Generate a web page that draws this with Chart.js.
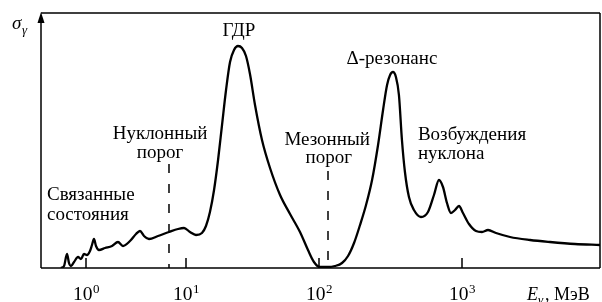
<!DOCTYPE html>
<html><head><meta charset="utf-8">
<script src="https://cdn.jsdelivr.net/npm/chart.js@4.4.0/dist/chart.umd.min.js"></script>
<style>html,body{margin:0;padding:0;background:#fff}</style>
</head><body>
<canvas id="c" width="602" height="302"></canvas>
<script>
// ---- data (photon energy in MeV, cross-section in arbitrary units) ----
const energyMeV = [0.562,0.603,0.646,0.676,0.708,0.759,0.832,0.891,0.955,1.023,1.096,1.148,1.202,1.259,1.349,1.549,1.820,2.089,2.344,2.754,3.162,3.467,3.802,4.266,5.248,6.761,8.318,9.550,10.72,11.89,13.18,14.13,15.14,16.25,17.42,18.66,20.0,21.43,22.96,24.60,26.36,28.25,30.27,33.03,37.27,42.83,50.96,60.56,71.97,82.63,91.65,101.6,115.6,129.4,144.9,159.6,175.8,193.6,213.3,235.0,258.8,280.5,299.2,314.1,328.9,345.1,362.2,380.2,399.0,425.6,461.3,516.4,578.1,636.8,690.2,736.2,785.2,837.5,893.3,952.8,1016,1119,1253,1380,1520,1729,2168,2992,4121,6166,9226];
const sigma = [0,2,14,5,2,6,11,9,14,13,17,23,29,22,18,20,22,26,22,27,34,37,32,29,32,36,39,40,36,33,35,42,56,78,108,143,178,206,218,222,220,212,194,163,128,100,73,54,36,18,6,1,1,2,5,12,25,43,63,88,123,158,183,193,196,191,173,128,96,71,58,51,56,73,88,81,65,55,58,62,55,44,37,36,38,35,31,28,26,24,23];
const tickValues = [1, 10, 100, 1000];
const tickBase = '10';
const tickExponents = ['0', '1', '2', '3'];
const thresholdEnergies = [6.76, 115.6];
const thresholdTops = [104, 97];
const annotations = [
  {text:'ГДР', E:25.0, v:232, align:'center'},
  {text:'Δ-резонанс', E:323.6, v:204, align:'center'},
  {text:'Возбуждения', E:492, v:128, align:'left'},
  {text:'нуклона', E:492, v:109, align:'left'},
  {text:'Нуклонный', E:5.50, v:129, align:'center'},
  {text:'порог', E:5.50, v:110, align:'center'},
  {text:'Мезонный', E:114, v:123, align:'center'},
  {text:'порог', E:117, v:105, align:'center'},
  {text:'Связанные', E:0.407, v:68, align:'left'},
  {text:'состояния', E:0.407, v:48.5, align:'left'}
];

// ---- non-uniform printed decade axis ----
const decadeLogs = [-0.45, 0, 1, 2, 3, 3.965];
const decadeFrac = [0, 45, 145, 278, 421, 559].map(v => v / 559);
function warpFrac(E) {
  const L = Math.log10(E);
  const n = decadeLogs.length;
  for (let i = 0; i < n - 1; i++) {
    if (L <= decadeLogs[i + 1] || i === n - 2) {
      const t = (L - decadeLogs[i]) / (decadeLogs[i + 1] - decadeLogs[i]);
      return decadeFrac[i] + t * (decadeFrac[i + 1] - decadeFrac[i]);
    }
  }
}
function unwarp(f) {
  const n = decadeFrac.length;
  for (let i = 0; i < n - 1; i++) {
    if (f <= decadeFrac[i + 1] || i === n - 2) {
      const t = (f - decadeFrac[i]) / (decadeFrac[i + 1] - decadeFrac[i]);
      return Math.pow(10, decadeLogs[i] + t * (decadeLogs[i + 1] - decadeLogs[i]));
    }
  }
}
class WarpScale extends Chart.LinearScale {
  getPixelForValue(v) { return this.left + warpFrac(v) * this.width; }
  getValueForPixel(p) { return unwarp((p - this.left) / this.width); }
}
WarpScale.id = 'warp';
WarpScale.defaults = Chart.LinearScale.defaults;
Chart.register(WarpScale);

const serif = "'Liberation Serif', 'Times New Roman', serif";

const framePlugin = {
  id: 'frame',
  afterDraw(chart) {
    const {ctx, chartArea: a, scales} = chart;
    const xs = scales.x, ys = scales.y;
    ctx.save();
    ctx.strokeStyle = '#000';
    ctx.fillStyle = '#000';
    ctx.lineWidth = 1.5;
    ctx.beginPath();
    ctx.moveTo(a.left, a.bottom); ctx.lineTo(a.right, a.bottom);
    ctx.moveTo(a.left, a.top); ctx.lineTo(a.right, a.top);
    ctx.moveTo(a.right, a.top); ctx.lineTo(a.right, a.bottom);
    ctx.moveTo(a.left, a.bottom); ctx.lineTo(a.left, a.top + 4);
    ctx.stroke();
    // arrow head
    ctx.beginPath();
    ctx.moveTo(a.left, a.top - 1);
    ctx.lineTo(a.left - 3.5, a.top + 10);
    ctx.lineTo(a.left + 3.5, a.top + 10);
    ctx.closePath(); ctx.fill();
    // inner decade ticks + labels with superscripts
    ctx.beginPath();
    xs.ticks.forEach((t, i) => {
      const px = xs.getPixelForTick(i);
      ctx.moveTo(px, a.bottom); ctx.lineTo(px, a.bottom - 10);
    });
    ctx.stroke();
    ctx.textBaseline = 'alphabetic';
    ctx.textAlign = 'left';
    xs.ticks.forEach((t, i) => {
      const px = xs.getPixelForTick(i);
      ctx.font = '19.5px ' + serif;
      const w1 = ctx.measureText(tickBase).width;
      ctx.font = '13px ' + serif;
      const w2 = ctx.measureText(tickExponents[i]).width;
      const x0 = px - (w1 + w2) / 2;
      ctx.font = '19.5px ' + serif;
      ctx.fillText(tickBase, x0, a.bottom + 32);
      ctx.font = '13px ' + serif;
      ctx.fillText(tickExponents[i], x0 + w1 + 0.5, a.bottom + 25);
    });
    // annotations
    ctx.font = '19px ' + serif;
    annotations.forEach(an => {
      ctx.textAlign = an.align;
      ctx.fillText(an.text, xs.getPixelForValue(an.E), ys.getPixelForValue(an.v));
    });
    // axis titles
    ctx.textAlign = 'left';
    ctx.font = 'italic 19px ' + serif;
    ctx.fillText('σ', a.left - 29, a.top + 16);
    ctx.font = 'italic 13px ' + serif;
    ctx.fillText('γ', a.left - 19, a.top + 21);
    ctx.font = 'italic 18px ' + serif;
    ctx.fillText('E', a.right - 73, a.bottom + 32);
    ctx.font = 'italic 13px ' + serif;
    ctx.fillText('γ', a.right - 62, a.bottom + 36);
    ctx.font = '18px ' + serif;
    ctx.fillText(', МэВ', a.right - 55, a.bottom + 32);
    ctx.restore();
  }
};

new Chart(document.getElementById('c'), {
  type: 'line',
  data: {
    datasets: [
      {data: energyMeV.map((E, i) => ({x: E, y: sigma[i]})), borderColor: '#000', borderWidth: 2.3, pointRadius: 0, cubicInterpolationMode: 'monotone', fill: false},
      {data: [{x: thresholdEnergies[0], y: thresholdTops[0]}, {x: thresholdEnergies[0], y: 0}], borderColor: '#000', borderWidth: 1.5, borderDash: [9, 11], pointRadius: 0},
      {data: [{x: thresholdEnergies[1], y: thresholdTops[1]}, {x: thresholdEnergies[1], y: 0}], borderColor: '#000', borderWidth: 1.5, borderDash: [9, 11], pointRadius: 0}
    ]
  },
  options: {
    responsive: false,
    animation: false,
    devicePixelRatio: 1,
    layout: {padding: {left: 41, top: 13, right: 2, bottom: 0}},
    plugins: {legend: {display: false}, tooltip: {enabled: false}},
    scales: {
      x: {
        type: 'warp', min: Math.pow(10, -0.45), max: Math.pow(10, 3.965),
        afterBuildTicks: s => { s.ticks = tickValues.map(v => ({value: v})); },
        afterFit: s => { s.height = 34; },
        grid: {display: false, drawTicks: false},
        border: {display: false},
        ticks: {display: false}
      },
      y: {display: false, min: 0, max: 255}
    }
  },
  plugins: [framePlugin]
});
</script>
</body></html>
